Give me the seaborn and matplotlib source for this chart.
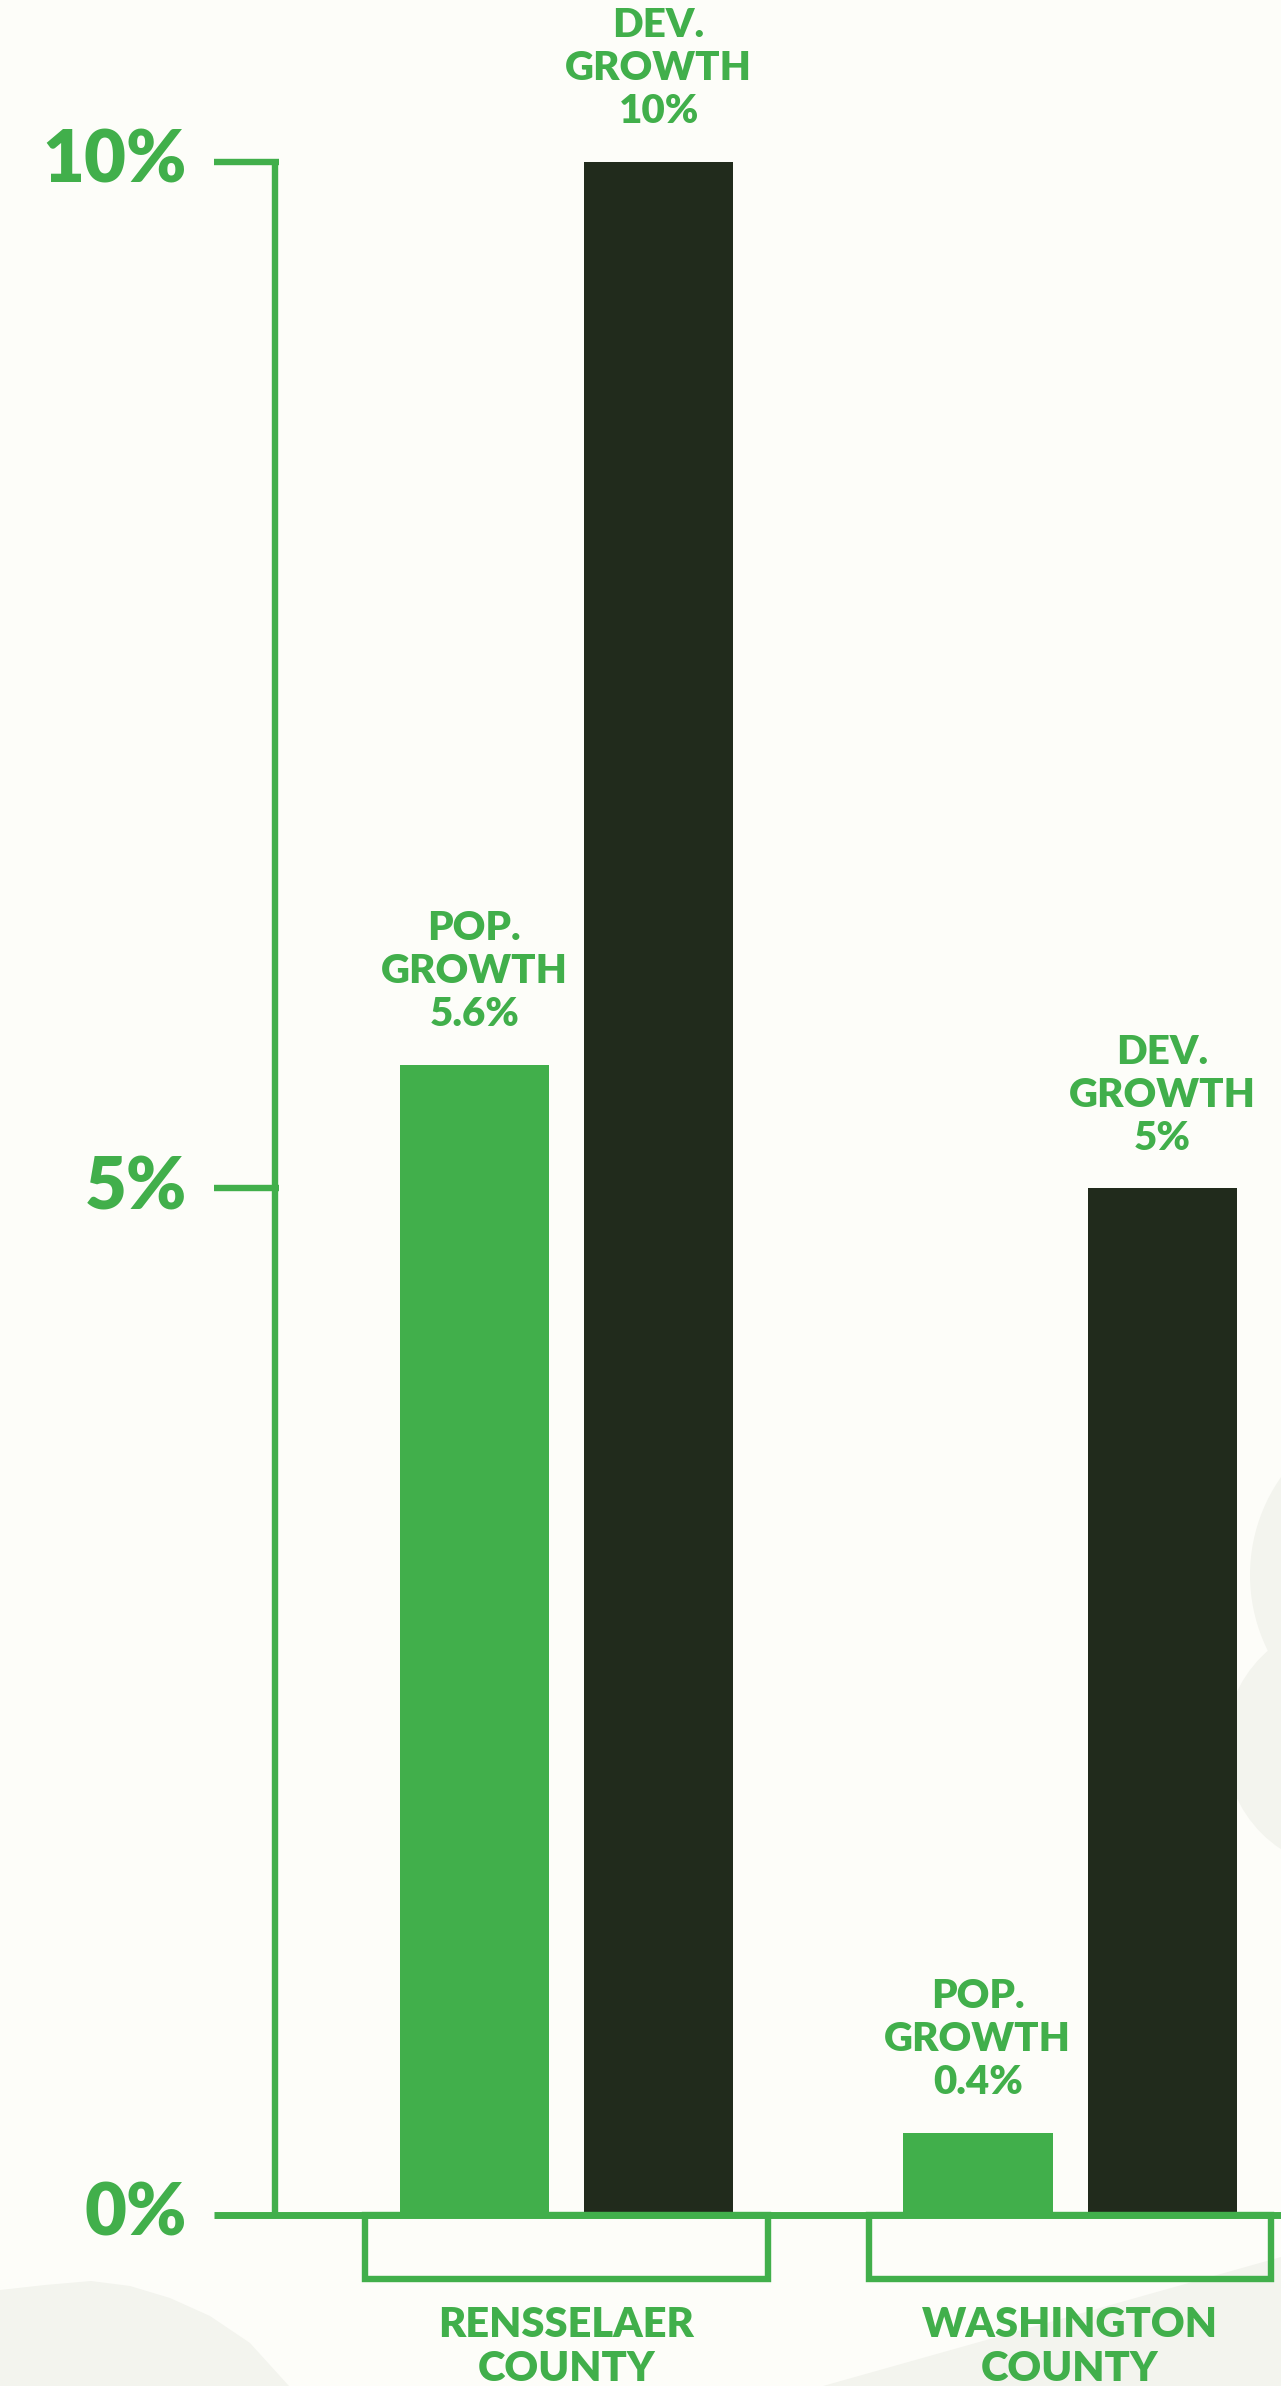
"""
Population vs. development growth, Rensselaer and Washington counties.
Bar chart redrawn with seaborn, saved as out.png (1281x2386).
"""

import numpy as np
import pandas as pd
import matplotlib
matplotlib.use("Agg")
import matplotlib.pyplot as plt
from matplotlib.patches import Rectangle, Polygon, Circle
import seaborn as sns

# ─────────────────────────────────────────────
# DATA
# ─────────────────────────────────────────────
COUNTIES     = ["RENSSELAER\nCOUNTY", "WASHINGTON\nCOUNTY"]
METRICS      = ["POP.\nGROWTH", "DEV.\nGROWTH"]
POP_GROWTH   = [5.6, 0.4]
DEV_GROWTH   = [10, 5]
Y_TICKS      = [0, 5, 10]
Y_TICKLABELS = ["0%", "5%", "10%"]

# ─────────────────────────────────────────────
# STYLE
# ─────────────────────────────────────────────
GREEN   = "#41AF4B"
DARK    = "#212B1C"
BG      = "#FDFDF9"
BLOB    = "#F3F4EE"
LW      = 4.6
W_PX, H_PX, DPI = 1281, 2386, 100

sns.set_theme(style="white")
plt.rcParams["font.family"] = ["Lato", "DejaVu Sans"]


def main():
    df = pd.DataFrame({
        "county": COUNTIES * 2,
        "metric": [METRICS[0]] * len(COUNTIES) + [METRICS[1]] * len(COUNTIES),
        "value":  POP_GROWTH + DEV_GROWTH,
    })

    fig = plt.figure(figsize=(W_PX / DPI, H_PX / DPI), dpi=DPI, facecolor=BG)

    # background shapes (pixel coords)
    bg = fig.add_axes([0, 0, 1, 1], zorder=0)
    bg.set_xlim(0, W_PX)
    bg.set_ylim(H_PX, 0)
    bg.axis("off")
    bg.add_patch(Polygon([(0, 2290), (45, 2285), (91, 2281), (130, 2286),
                          (170, 2298), (210, 2316), (250, 2343), (289, 2386),
                          (0, 2386)], closed=True, color=BLOB, lw=0))
    bg.add_patch(Polygon([(823, 2386), (1281, 2257), (1281, 2386)],
                         closed=True, color=BLOB, lw=0))
    bg.add_patch(Circle((1420, 1575), 170, color=BLOB, lw=0))
    bg.add_patch(Circle((1350, 1745), 125, color=BLOB, lw=0))

    # main chart, covers the whole figure
    ax = fig.add_axes([0, 0, 1, 1], zorder=1)
    ax.set_facecolor("none")
    sns.barplot(
        data=df, x="county", y="value", hue="metric",
        palette=[GREEN, DARK], saturation=1, width=0.732, gap=0.19,
        linewidth=0, legend=False, ax=ax, zorder=3,
    )
    ax.set_xlim(-1.125, 1.419)
    ax.set_ylim(-0.833, 10.789)
    ax.axis("off")

    # y axis, ticks and baseline
    x_axis = -0.579
    ax.plot([x_axis, x_axis], [0, max(Y_TICKS)], color=GREEN, lw=LW,
            solid_capstyle="butt", zorder=4)
    for t, lab in zip(Y_TICKS, Y_TICKLABELS):
        if t > 0:
            ax.plot([-0.700, x_axis + 0.008], [t, t], color=GREEN, lw=LW,
                    solid_capstyle="butt", zorder=4)
        ax.text(-0.754, t, lab, ha="right", va="center", color=GREEN,
                fontsize=52, fontweight="heavy")
    ax.plot([-0.700, 1.419], [0, 0], color=GREEN, lw=LW + 0.4,
            solid_capstyle="butt", zorder=5)

    # bar labels
    for container, metric in zip(ax.containers, METRICS):
        for bar in container:
            h = bar.get_height()
            ax.annotate(
                f"{metric}\n{h:g}%",
                (bar.get_x() + bar.get_width() / 2, h),
                xytext=(0, 23), textcoords="offset points",
                ha="center", va="bottom", color=GREEN,
                fontsize=29, fontweight="heavy", linespacing=1.2,
            )

    # county brackets and names
    for i, name in enumerate(COUNTIES):
        ax.add_patch(Rectangle((i - 0.4, -0.312), 0.8, 0.312, fill=False,
                               edgecolor=GREEN, lw=LW, zorder=4))
        ax.text(i, -0.643, name, ha="center", va="center", color=GREEN,
                fontsize=30, fontweight="heavy", linespacing=1.2)

    fig.savefig("out.png", dpi=DPI, facecolor=BG)


if __name__ == "__main__":
    main()
